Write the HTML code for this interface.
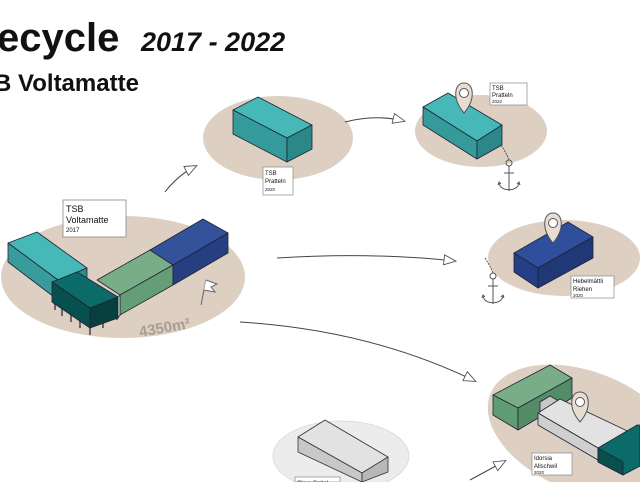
<!DOCTYPE html>
<html><head><meta charset="utf-8"><style>
html,body{margin:0;padding:0;background:#fff;width:640px;height:482px;overflow:hidden}
svg{display:block}
text{font-family:"Liberation Sans",sans-serif}
</style></head><body>
<svg width="640" height="482" viewBox="0 0 640 482" xmlns="http://www.w3.org/2000/svg">
<defs>
<marker id="ah" markerWidth="14" markerHeight="12" refX="12" refY="6" orient="auto" markerUnits="userSpaceOnUse">
<path d="M1,1 L13,6 L1,11 Z" fill="#fff" stroke="#444" stroke-width="0.8"/>
</marker>
<g id="pin"><path d="M0,0 C-12,-14 -10,-30 0,-30 C10,-30 12,-14 0,0 Z" fill="#e8ddd2" stroke="#555" stroke-width="1"/><circle cx="0" cy="-20" r="4.5" fill="#fff" stroke="#555" stroke-width="1"/></g>
<g id="anchor" fill="none" stroke="#555" stroke-width="1"><circle cx="0" cy="-22" r="3"/><path d="M0,-19 L0,6 M-5,-12 L5,-12 M-10,-2 C-9,7 9,7 10,-2 M-11,0 L-10,-3 L-8,-1 M11,0 L10,-3 L8,-1"/><path d="M-8,-40 C-4,-34 -2,-30 0,-25" stroke-dasharray="2 1"/></g>
</defs>

<text x="-3" y="51" font-size="40" font-weight="bold" fill="#111">ecycle</text>
<text x="141" y="51" font-size="27" font-weight="bold" font-style="italic" fill="#111">2017 - 2022</text>
<text x="-22" y="91" font-size="24" font-weight="bold" fill="#111">SB Voltamatte</text>

<ellipse cx="123" cy="277" rx="122" ry="61" fill="#ddd0c3"/>
<ellipse cx="278" cy="138" rx="75" ry="42" fill="#ddd0c3"/>
<ellipse cx="481" cy="131" rx="66" ry="36" fill="#ddd0c3"/>
<ellipse cx="564" cy="258" rx="76" ry="38" fill="#ddd0c3"/>
<ellipse cx="585" cy="432" rx="102" ry="60" transform="rotate(22 585 432)" fill="#ddd0c3"/>
<ellipse cx="341" cy="456" rx="68" ry="35" fill="#ececec" stroke="#d8d8d8" stroke-width="0.8"/>

<g fill="none" stroke="#444" stroke-width="1" marker-end="url(#ah)">
<path d="M165,192 Q178,175 196,166"/>
<path d="M345,122 Q375,114 404,121"/>
<path d="M277,258 Q370,252 455,261"/>
<path d="M240,322 Q370,330 475,381"/>
<path d="M470,480 L505,461"/>
</g>

<g stroke="#223" stroke-width="0.8" stroke-linejoin="round">
<polygon points="8,243 37,232 87,268 58,280" fill="#46b8b8"/>
<polygon points="8,243 58,280 58,300 8,262" fill="#389c9c"/>
<polygon points="58,280 87,268 87,290 58,300" fill="#2f8a8a"/>
<g stroke="#444" stroke-width="1.5"><line x1="55" y1="300" x2="55" y2="310"/><line x1="62" y1="305" x2="62" y2="316"/><line x1="71" y1="310" x2="71" y2="322"/><line x1="80" y1="316" x2="80" y2="328"/><line x1="90" y1="322" x2="90" y2="335"/><line x1="103" y1="318" x2="103" y2="328"/><line x1="117" y1="312" x2="117" y2="320"/></g>
<polygon points="52,282 77,272 118,297 90,308" fill="#0b6b68"/>
<polygon points="52,282 90,308 90,328 52,302" fill="#08504e"/>
<polygon points="90,308 118,297 118,318 90,328" fill="#073f3d"/>
<polygon points="97,280 150,250 173,265 120,295" fill="#78ad88"/>
<polygon points="120,295 173,265 173,285 120,315" fill="#639e78"/>
<polygon points="118,297 120,295 120,315 118,318" fill="#e0e0e0"/>
<polygon points="150,250 203,219 228,233 173,265" fill="#34529a"/>
<polygon points="173,265 228,233 228,253 173,285" fill="#263f80"/>
</g>
<text x="140" y="337" font-size="15" font-weight="bold" fill="#a89d92" transform="rotate(-10 140 337)">4350m²</text>
<g stroke="#666" stroke-width="1" fill="#fff"><line x1="201" y1="305" x2="206" y2="280"/><path d="M206,280 L217,284 L211,287 L215,292 L204,290"/></g>

<rect x="63" y="200" width="63" height="37" fill="#fff" stroke="#888" stroke-width="0.8"/>
<text x="66" y="212" font-size="9" fill="#111">TSB</text>
<text x="66" y="223" font-size="9" fill="#111">Voltamatte</text>
<text x="66" y="232" font-size="6" fill="#111">2017</text>

<g stroke="#223" stroke-width="0.8" stroke-linejoin="round">
<polygon points="233,110 258,97 312,125 287,138" fill="#46b8b8"/>
<polygon points="233,110 287,138 287,162 233,134" fill="#359a9a"/>
<polygon points="287,138 312,125 312,149 287,162" fill="#2c8888"/>
</g>
<rect x="263" y="167" width="30" height="28" fill="#fff" stroke="#888" stroke-width="0.7"/>
<text x="265" y="175" font-size="6" fill="#111">TSB</text>
<text x="265" y="183" font-size="6" fill="#111">Pratteln</text>
<text x="265" y="191" font-size="4.5" fill="#111">2020</text>

<g stroke="#223" stroke-width="0.8" stroke-linejoin="round">
<polygon points="423,107 448,93 502,125 477,141" fill="#46b8b8"/>
<polygon points="423,107 477,141 477,159 423,125" fill="#359a9a"/>
<polygon points="477,141 502,125 502,145 477,159" fill="#2c8888"/>
</g>
<use href="#pin" x="464" y="113"/>
<rect x="490" y="83" width="37" height="22" fill="#fff" stroke="#888" stroke-width="0.7"/>
<text x="492" y="90" font-size="6" fill="#111">TSB</text>
<text x="492" y="97" font-size="6" fill="#111">Pratteln</text>
<text x="492" y="103" font-size="4.5" fill="#111">2022</text>
<use href="#anchor" x="509" y="185"/>

<g stroke="#223" stroke-width="0.8" stroke-linejoin="round">
<polygon points="514,253 568,222 593,237 538,268" fill="#2f4e9c"/>
<polygon points="514,253 538,268 538,288 514,272" fill="#243f85"/>
<polygon points="538,268 593,237 593,258 538,288" fill="#203876"/>
</g>
<use href="#pin" x="553" y="243"/>
<rect x="571" y="276" width="43" height="22" fill="#fff" stroke="#888" stroke-width="0.7"/>
<text x="573" y="283" font-size="6" fill="#111">Hebelmättli</text>
<text x="573" y="291" font-size="6" fill="#111">Riehen</text>
<text x="573" y="297" font-size="4.5" fill="#111">2020</text>
<use href="#anchor" x="493" y="298"/>

<g stroke="#223" stroke-width="0.8" stroke-linejoin="round">
<polygon points="493,395 550,365 572,378 518,408" fill="#78ad88"/>
<polygon points="493,395 518,408 518,430 493,415" fill="#5f9c73"/>
<polygon points="518,408 572,378 572,398 518,430" fill="#558c68"/>
<polygon points="540,402 550,396 557,400 557,410 547,416 540,412" fill="#c8c8c8"/>
<polygon points="538,413 560,399 640,437 640,444 598,448" fill="#e2e2e2"/>
<polygon points="538,413 598,448 598,460 538,425" fill="#cfcfcf"/>
<polygon points="598,448 637,425 640,425 640,466 623,475 598,462" fill="#0b6b68"/>
<polygon points="598,448 623,462 623,475 598,462" fill="#08504e"/>
</g>
<use href="#pin" x="580" y="422"/>
<rect x="532" y="453" width="40" height="22" fill="#fff" stroke="#888" stroke-width="0.7"/>
<text x="534" y="460" font-size="6" fill="#111">Idorsia</text>
<text x="534" y="468" font-size="6" fill="#111">Allschwil</text>
<text x="534" y="474" font-size="4.5" fill="#111">2020</text>

<g stroke="#333" stroke-width="0.8" stroke-linejoin="round">
<polygon points="298,437 325,420 388,457 362,473" fill="#e2e2e2"/>
<polygon points="298,437 362,473 362,482 298,452" fill="#c8c8c8"/>
<polygon points="362,473 388,457 388,472 362,482" fill="#b8b8b8"/>
</g>
<rect x="295" y="477" width="45" height="5" fill="#fff" stroke="#888" stroke-width="0.7"/>
<text x="297" y="485" font-size="6" fill="#111">Clara Spital</text>
</svg>
</body></html>
